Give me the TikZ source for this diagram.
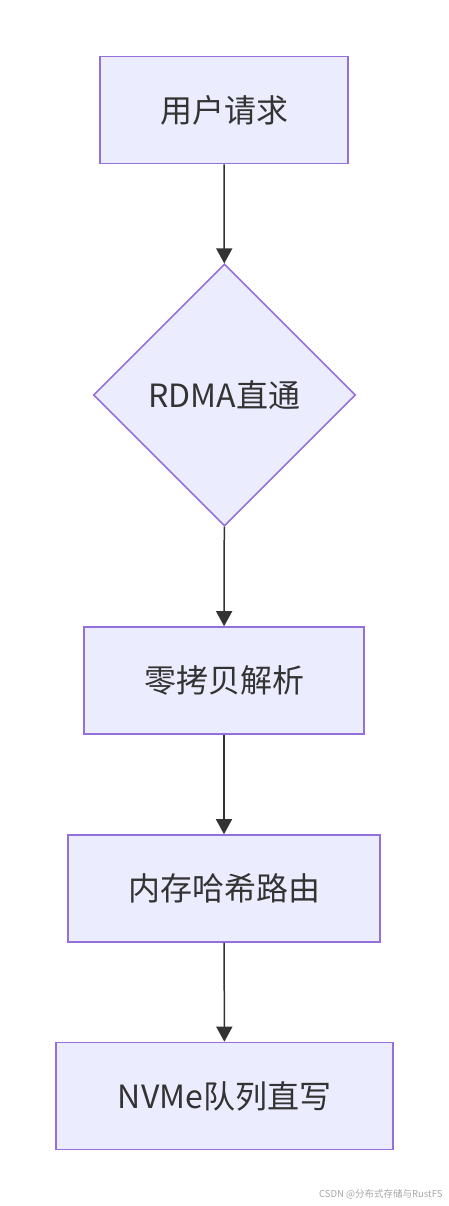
\documentclass[tikz,border=0pt]{standalone}
\usepackage{fontspec}
\setmainfont{Noto Sans CJK SC}
\usetikzlibrary{shapes.geometric,arrows.meta}
\definecolor{boxfill}{HTML}{ECECFF}
\definecolor{boxline}{HTML}{9370DB}
\definecolor{ink}{HTML}{333333}
\tikzset{
  stepbox/.style={rectangle,draw=boxline,fill=boxfill,line width=1.6pt,
    minimum height=107pt,text=ink,font=\fontsize{32}{38}\selectfont},
  choice/.style={diamond,draw=boxline,fill=boxfill,line width=1.6pt,aspect=1,
    minimum width=262pt,minimum height=262pt,inner sep=0pt,text=ink,
    font=\fontsize{32}{38}\selectfont},
  flow/.style={draw=ink,line width=1.5pt,-{Triangle[length=15pt,width=16pt]}}
}
\begin{document}
\begin{tikzpicture}[x=1pt,y=-1pt]
    \useasboundingbox (0,0) rectangle (449,1206);
    %% Steps of the request path
    \node[stepbox,minimum width=248pt] (request) at (224,110) {用户请求};
    \node[choice] (rdma) at (224.5,395) {RDMA直通};
    \node[stepbox,minimum width=280pt] (parse) at (224,680.5) {零拷贝解析};
    \node[stepbox,minimum width=312pt] (route) at (224,888.5) {内存哈希路由};
    \node[stepbox,minimum width=337pt] (write) at (224.5,1096) {NVMe队列直写};
    %% Connectors
    \draw[flow] (request) -- (rdma);
    \draw[flow] (rdma) -- (parse);
    \draw[flow] (parse) -- (route);
    \draw[flow] (route) -- (write);
    %% Watermark
    \node[anchor=east,text=black!35,font=\fontsize{9.5}{11}\selectfont] (mark) at (446,1194) {CSDN @分布式存储与RustFS};
\end{tikzpicture}
\end{document}
